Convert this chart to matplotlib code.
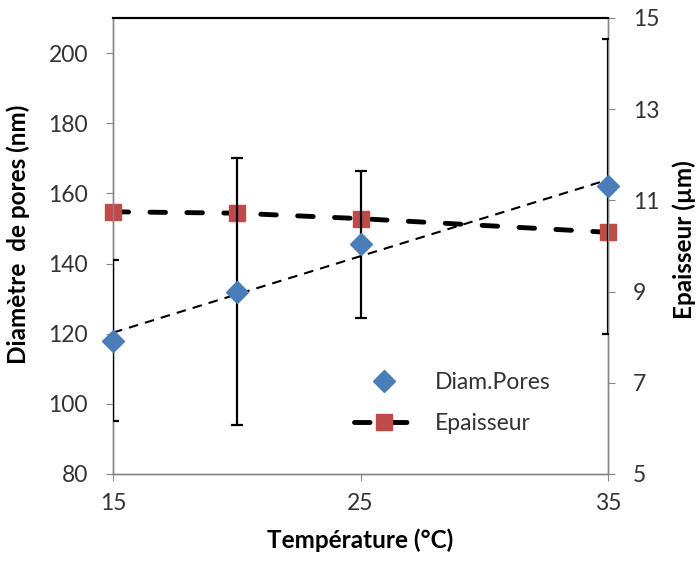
import matplotlib.pyplot as plt
import numpy as np

plt.rcParams['font.family'] = ['Lato', 'DejaVu Sans']

temp = [15, 20, 25, 35]
diam = [118, 132, 145.5, 162]
diam_err = [23, 38, 21, 42]
epaisseur = [10.75, 10.72, 10.6, 10.3]

grey = '#868686'
txt = '#333333'

fig = plt.figure(figsize=(6.97, 5.63), dpi=100)
ax1 = fig.add_axes([113 / 697, 1 - 474 / 563, 495 / 697, 456 / 563])
ax2 = ax1.twinx()

# diameter with error bars and linear trendline
ax1.errorbar(temp, diam, yerr=diam_err, fmt='none', ecolor='black',
             elinewidth=1.6, capsize=4.5, capthick=1.6, zorder=3)
coef = np.polyfit(temp, diam, 1)
xs = np.array([temp[0], temp[-1]])
ax1.plot(xs, np.polyval(coef, xs), color='black', lw=1.5, ls=(0, (4.6, 3.4)), zorder=4)
ax1.plot(temp, diam, ls='none', marker='D', ms=11, color='#4a7ebb',
         mec='#4a7ebb', zorder=5, clip_on=False, label='Diam.Pores')

# thickness
ax2.plot(temp, epaisseur, color='black', lw=3.5, ls=(0, (3.2, 4.4)),
         dash_capstyle='round', marker='s', ms=11.5, mfc='#be4b48',
         mec='#be4b48', zorder=5, clip_on=False, label='Epaisseur')

ax1.set_xlim(15, 35)
ax1.set_ylim(80, 210)
ax2.set_ylim(5, 15)
ax1.set_xticks([15, 25, 35])
ax1.set_yticks(range(80, 201, 20))
ax2.set_yticks(range(5, 16, 2))

for a in (ax1, ax2):
    for s in ('left', 'right', 'bottom'):
        a.spines[s].set_color(grey)
        a.spines[s].set_linewidth(1)
    a.spines['top'].set_color('black')
    a.spines['top'].set_linewidth(1.5)
    a.tick_params(direction='out', color=grey, length=5, labelsize=16.5,
                  labelcolor=txt)
ax1.tick_params(axis='x', pad=9)
ax1.tick_params(axis='y', pad=13)
ax2.tick_params(axis='y', pad=13)
ax1.set_zorder(ax2.get_zorder() + 1)
ax1.patch.set_visible(False)

ax1.set_xlabel('Température (°C)', fontsize=17.5, fontweight='bold', labelpad=10)
ax1.set_ylabel('Diamètre  de pores (nm)', fontsize=17.5, fontweight='bold')
ax2.set_ylabel('Epaisseur (µm)', fontsize=17.5, fontweight='bold')
ax1.yaxis.set_label_coords(-0.168, 0.526)
ax2.yaxis.set_label_coords(1.13, 0.513)

h1, l1 = ax1.get_legend_handles_labels()
h2, l2 = ax2.get_legend_handles_labels()
ax1.legend(h1 + h2, l1 + l2, loc='upper left', bbox_to_anchor=(0.445, 0.268),
           frameon=False, fontsize=16.5, handlelength=2.6, labelspacing=0.85,
           handletextpad=0.95, labelcolor=txt)

fig.savefig('out.png', dpi=100)
